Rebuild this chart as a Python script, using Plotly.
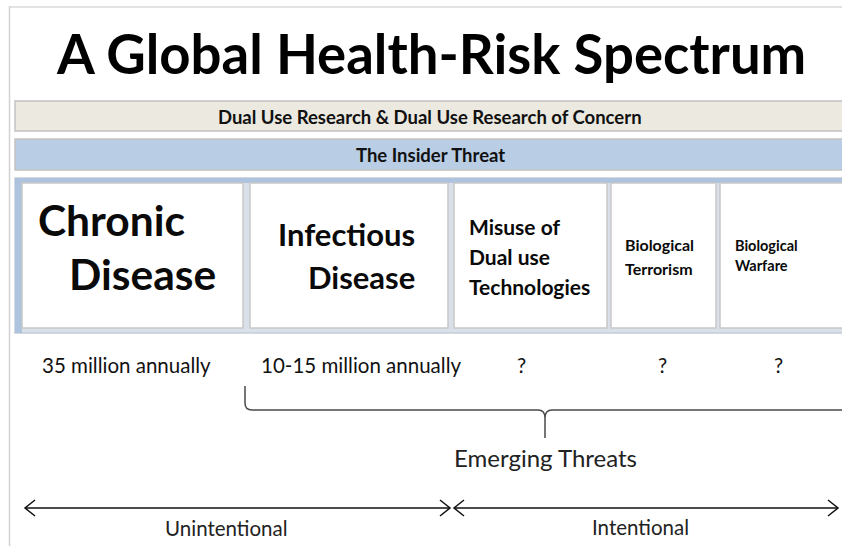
import plotly.graph_objects as go

# ---- content ----
TITLE = "A Global Health-Risk Spectrum"
BANDS = ["Dual Use Research & Dual Use Research of Concern", "The Insider Threat"]
CATEGORIES = [
    ["Chronic", "Disease"],
    ["Infectious", "Disease"],
    ["Misuse of", "Dual use", "Technologies"],
    ["Biological", "Terrorism"],
    ["Biological", "Warfare"],
]
DEATHS = ["35 million annually", "10-15 million annually", "?", "?", "?"]
GROUP_LABEL = "Emerging Threats"
INTENT_LABELS = ["Unintentional", "Intentional"]

# ---- layout (pixel space) ----
W, H = 842, 546
FONT = "Lato, 'Open Sans', sans-serif"
BAND_Y = [(101, 131), (139, 170)]
BAND_FILL = ["#ebe9e0", "#b9cde5"]
BOX_X = [(22, 243), (250, 448), (454, 607), (611, 716), (720, 852)]
BOX_Y = (183, 328)
# per-box text placement: (x per line, anchor, y per line, size)
BOX_TEXT = [
    ([36, 67], "left", [219, 273], 42.5),
    ([417, 417], "right", [234, 277], 31),
    ([467, 467, 467], "left", [226, 256, 286], 21),
    ([623, 623], "left", [244, 268], 16),
    ([733, 733], "left", [245, 265], 14.5),
]
DEATH_X = [126, 361, 521, 662, 778]
DEATH_Y = 365

fig = go.Figure()
fig.update_layout(
    width=W, height=H, margin=dict(l=0, r=0, t=0, b=0),
    paper_bgcolor="white", plot_bgcolor="white", showlegend=False,
    xaxis=dict(range=[0, W], visible=False, fixedrange=True),
    yaxis=dict(range=[H, 0], visible=False, fixedrange=True),
)

def rect(x0, y0, x1, y1, fill, line="#c4c4c4", lw=1.5):
    fig.add_shape(type="rect", x0=x0, y0=y0, x1=x1, y1=y1, xref="x", yref="y",
                  fillcolor=fill, line=dict(color=line, width=lw), layer="below")

def text(x, y, s, size, anchor="center", bold=False, color="#111"):
    fig.add_annotation(x=x, y=y, xref="x", yref="y", text=s, showarrow=False,
                       xanchor=anchor, yanchor="middle",
                       font=dict(family=FONT, size=size, color=color,
                                 weight="bold" if bold else "normal"))

# page frame
fig.add_shape(type="line", x0=9.5, y0=6, x1=9.5, y1=H, line=dict(color="#d2d2d2", width=1.5))
fig.add_shape(type="line", x0=9.5, y0=7, x1=W, y1=7, line=dict(color="#d8d8d8", width=1.5))

# title
text(431, 53, TITLE, 54.5, bold=True, color="#000")

# bands
for (y0, y1), fill, label in zip(BAND_Y, BAND_FILL, BANDS):
    rect(15, y0, W + 10, y1, fill, "#c2c2c2", 1.5)
    text(430, (y0 + y1) / 2 + 0.5, label, 18.5, bold=True)

# container of boxes
rect(15, 178, W + 10, 333, "#d9e0ea", "#c6cdd8", 1.5)
fig.add_shape(type="rect", x0=15, y0=178, x1=W + 10, y1=183, fillcolor="#aec3de",
              line=dict(width=0), layer="below")
fig.add_shape(type="rect", x0=15, y0=178, x1=22, y1=333, fillcolor="#aec3de",
              line=dict(width=0), layer="below")

for (x0, x1), lines, (xs, anchor, ys, size) in zip(BOX_X, CATEGORIES, BOX_TEXT):
    rect(x0, BOX_Y[0], x1, BOX_Y[1], "white", "#c8c8c8", 1.5)
    for s, x, y in zip(lines, xs, ys):
        text(x, y, s, size, anchor=anchor, bold=True, color="#0a0a0a")

# deaths row
for x, s in zip(DEATH_X, DEATHS):
    text(x, DEATH_Y, s, 20.5)

# brace
brace = ("M 245 386 L 245 403 Q 245 410 252 410 L 538 410 Q 545 410 545 418 L 545 438 "
         "M 545 418 Q 545 410 552 410 L 852 410")
fig.add_shape(type="path", path=brace, xref="x", yref="y", line=dict(color="#4a4a4a", width=1.5))
text(545, 457, GROUP_LABEL, 24, color="#222")

# intent arrows
AY = 508
for xa, xb in [(25, 450), (454, 838)]:
    fig.add_shape(type="line", x0=xa, y0=AY, x1=xb, y1=AY, line=dict(color="#111", width=1.5))
    fig.add_shape(type="path", path=f"M {xa+10} {AY-8} L {xa} {AY} L {xa+10} {AY+8}",
                  line=dict(color="#111", width=1.5))
    fig.add_shape(type="path", path=f"M {xb-10} {AY-8} L {xb} {AY} L {xb-10} {AY+8}",
                  line=dict(color="#111", width=1.5))
text(226, 528, INTENT_LABELS[0], 20.5, color="#222")
text(640, 527, INTENT_LABELS[1], 20.5, color="#222")

fig.write_html("out.html", config={"displayModeBar": False},
               post_script="document.body.style.margin='0';")
